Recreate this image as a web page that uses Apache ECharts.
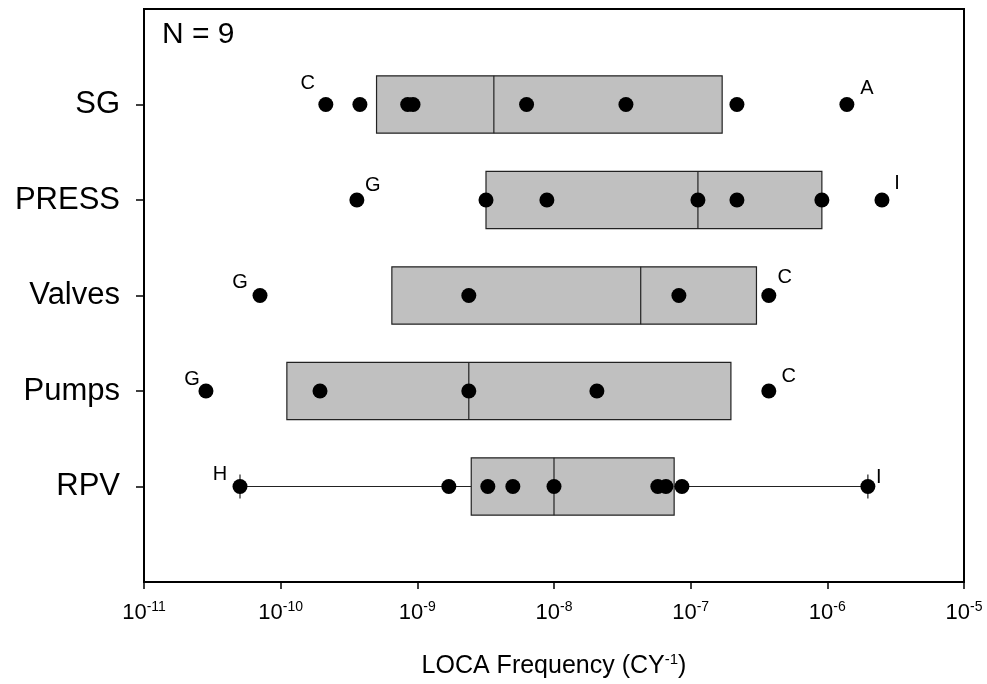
<!DOCTYPE html>
<html>
<head>
<meta charset="utf-8">
<script src="https://cdn.jsdelivr.net/npm/echarts@6/dist/echarts.min.js"></script>
<style>
  html, body { margin: 0; padding: 0; background: #fff; }
  #main { width: 987px; height: 684px; }
</style>
</head>
<body>
<div id="main"></div>
<script>
// categories, top to bottom
const categories = ['SG', 'PRESS', 'Valves', 'Pumps', 'RPV'];

// individual estimates per component (CY^-1)
const sgPoints = [2.14e-10, 3.8e-10, 8.5e-10, 9.3e-10, 6.3e-9, 3.36e-8, 2.18e-7, 1.39e-6];
const pressPoints = [3.61e-10, 3.18e-9, 8.87e-9, 1.13e-7, 2.18e-7, 9.12e-7, 2.51e-6];
const valvesPoints = [7.06e-11, 2.38e-9, 8.2e-8, 3.73e-7];
const pumpsPoints = [2.84e-11, 1.94e-10, 2.38e-9, 2.06e-8, 3.73e-7];
const rpvPoints = [5.04e-11, 1.7e-9, 3.28e-9, 5.0e-9, 1.0e-8, 5.75e-8, 6.59e-8, 8.63e-8, 1.98e-6];

// box stats per row
const boxQ1 = [5.03e-10, 3.18e-9, 6.51e-10, 1.11e-10, 2.48e-9];
const boxMedian = [3.63e-9, 1.13e-7, 4.31e-8, 2.38e-9, 1.0e-8];
const boxQ3 = [1.70e-7, 9.12e-7, 3.03e-7, 1.97e-7, 7.57e-8];
const whiskerLow = [null, null, null, null, 5.04e-11];
const whiskerHigh = [null, null, null, null, 1.98e-6];

// expert letters next to extreme points: [row, value, letter]
const letters = [
  [0, 2.14e-10, 'C'], [0, 1.39e-6, 'A'],
  [1, 3.61e-10, 'G'], [1, 2.51e-6, 'I'],
  [2, 7.06e-11, 'G'], [2, 3.73e-7, 'C'],
  [3, 2.84e-11, 'G'], [3, 3.73e-7, 'C'],
  [4, 5.04e-11, 'H'], [4, 1.98e-6, 'I']
];
const xTicks = [1e-11, 1e-10, 1e-9, 1e-8, 1e-7, 1e-6, 1e-5];

// label placement (layout only)
const letterOffsets = [[-18, -21], [20, -16], [16, -15], [15, -17], [-20, -13], [16, -18], [-14, -12], [20, -15], [-20, -12], [11, -9]];

const FONT = '"Liberation Sans", Arial, Helvetica, sans-serif';
const allPoints = [sgPoints, pressPoints, valvesPoints, pumpsPoints, rpvPoints];

let scatterData = [];
allPoints.forEach((arr, i) => {
  arr.forEach(v => scatterData.push([v, i + 1]));
});

let boxData = categories.map((c, i) => [i + 1, boxQ1[i], boxMedian[i], boxQ3[i], whiskerLow[i], whiskerHigh[i]]);

let letterData = letters.map((l, i) => ({
  value: [l[1], l[0] + 1, l[2]],
  label: { offset: letterOffsets[i] }
}));

let chart = echarts.init(document.getElementById('main'));
let option = {
  animation: false,
  backgroundColor: '#fff',
  grid: {
    left: 144, right: 23, top: 9, bottom: 101,
    show: true, borderColor: '#000', borderWidth: 2, backgroundColor: 'transparent'
  },
  graphic: [{
    type: 'text', left: 162, top: 20,
    style: { text: 'N = 9', font: '30px ' + FONT, fill: '#000' }
  }],
  xAxis: {
    type: 'log',
    logBase: 10,
    min: xTicks[0],
    max: xTicks[xTicks.length - 1],
    splitNumber: 6,
    name: 'LOCA Frequency (CY{s|-1})',
    nameLocation: 'middle',
    nameGap: 70,
    nameTextStyle: {
      fontFamily: FONT, fontSize: 25, color: '#000',
      rich: { s: { fontFamily: FONT, fontSize: 15, color: '#000', padding: [0, 0, 14, 0] } }
    },
    axisLine: { onZero: false, lineStyle: { color: '#000', width: 2 } },
    axisTick: { inside: false, length: 7, lineStyle: { color: '#000', width: 1.5 } },
    minorTick: { show: false },
    splitLine: { show: false },
    axisLabel: {
      margin: 18,
      fontFamily: FONT, fontSize: 22, color: '#000',
      formatter: function (v) {
        let e = Math.round(Math.log10(v));
        return '10{s|' + e + '}';
      },
      rich: { s: { fontFamily: FONT, fontSize: 14, color: '#000', padding: [0, 0, 12, 0] } }
    }
  },
  yAxis: {
    type: 'value',
    min: 0, max: 6, interval: 1,
    inverse: true,
    axisLine: { show: true, onZero: false, lineStyle: { color: '#000', width: 2 } },
    axisTick: { show: true, length: 8, lineStyle: { color: '#000', width: 1.5 }, customValues: [1, 2, 3, 4, 5] },
    splitLine: { show: false },
    axisLabel: {
      margin: 24,
      fontFamily: FONT, fontSize: 31, color: '#000',
      customValues: [1, 2, 3, 4, 5],
      formatter: function (v) { return categories[v - 1] || ''; }
    }
  },
  series: [
    {
      type: 'custom',
      z: 2,
      data: boxData,
      encode: { x: [1, 3, 4, 5], y: 0 },
      renderItem: function (params, api) {
        let row = api.value(0);
        let q1 = api.coord([api.value(1), row - 0.3]);
        let md = api.coord([api.value(2), row]);
        let q3 = api.coord([api.value(3), row + 0.3]);
        let mid = api.coord([api.value(1), row])[1];
        let children = [];
        let lo = api.value(4), hi = api.value(5);
        if (lo && hi && !isNaN(lo) && !isNaN(hi)) {
          let pl = api.coord([lo, row]);
          let ph = api.coord([hi, row]);
          let s = { stroke: '#222', lineWidth: 1.2 };
          children.push({ type: 'line', shape: { x1: pl[0], y1: mid, x2: q1[0], y2: mid }, style: s });
          children.push({ type: 'line', shape: { x1: q3[0], y1: mid, x2: ph[0], y2: mid }, style: s });
          children.push({ type: 'line', shape: { x1: pl[0], y1: mid - 12, x2: pl[0], y2: mid + 12 }, style: s });
          children.push({ type: 'line', shape: { x1: ph[0], y1: mid - 12, x2: ph[0], y2: mid + 12 }, style: s });
        }
        children.push({
          type: 'rect',
          shape: { x: q1[0], y: q1[1], width: q3[0] - q1[0], height: q3[1] - q1[1] },
          style: { fill: '#c0c0c0', stroke: '#222', lineWidth: 1.2 }
        });
        children.push({
          type: 'line',
          shape: { x1: md[0], y1: q1[1], x2: md[0], y2: q3[1] },
          style: { stroke: '#222', lineWidth: 1.2 }
        });
        return { type: 'group', children: children };
      }
    },
    {
      type: 'scatter',
      z: 3,
      symbol: 'circle',
      symbolSize: 15,
      itemStyle: { color: '#000', opacity: 1 },
      data: scatterData
    },
    {
      type: 'scatter',
      z: 4,
      symbolSize: 1,
      itemStyle: { color: 'rgba(0,0,0,0)' },
      label: {
        show: true,
        position: 'inside',
        fontFamily: FONT, fontSize: 20, color: '#000', opacity: 1,
        formatter: function (p) { return p.value[2]; }
      },
      data: letterData
    }
  ]
};
chart.setOption(option);
</script>
</body>
</html>
